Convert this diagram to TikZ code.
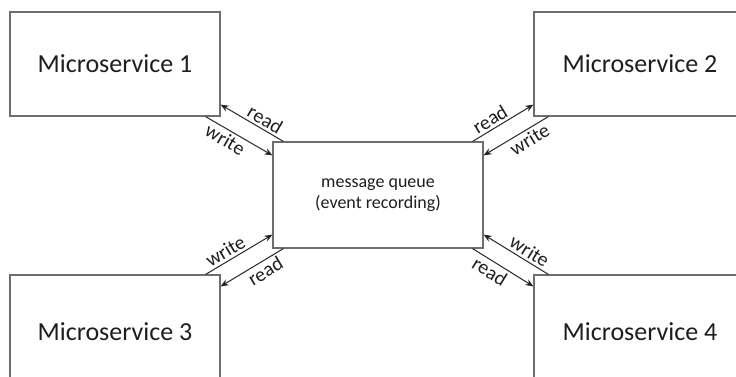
\documentclass[tikz,border=0pt]{standalone}
\usepackage{fontspec}
\setmainfont{Carlito}
\usepackage{tikz}
\usetikzlibrary{arrows.meta}
\definecolor{bx}{RGB}{110, 110, 110}
\definecolor{tx}{RGB}{30, 30, 30}

\begin{document}
\begin{tikzpicture}
			[x=1pt,y=-1pt,every node/.style={inner sep=0pt},
			msbox/.style={rectangle, draw=bx, line width=1.2pt, fill=white, text=tx, font=\fontsize{26}{30}\selectfont},
			rw/.style={line width=1pt, color=black!85, -{Stealth[length=8pt,width=6.5pt]}},
			lbl/.style={pos=0.37, sloped, inner sep=2.5pt, text=tx, font=\fontsize{20}{22}\selectfont}]
			\clip (0,0) rectangle (736,376);
			\node (ms1) [msbox, minimum width=210pt, minimum height=104pt] at (115, 64)  {Microservice 1};
			\node (ms2) [msbox, minimum width=212pt, minimum height=104pt] at (640, 64)  {Microservice 2};
			\node (ms3) [msbox, minimum width=210pt, minimum height=114pt] at (115, 332) {Microservice 3};
			\node (ms4) [msbox, minimum width=212pt, minimum height=114pt] at (640, 332) {Microservice 4};
			\node (mq) [msbox, minimum width=210pt, minimum height=106pt, align=center, font=\fontsize{18}{21}\selectfont] at (378, 195) {message queue\\(event recording)};
			% top left
			\draw [rw] ([xshift=11pt]mq.north west) to node [lbl, above] {read} ([yshift=12pt]ms1.south east);
			\draw [rw] ([xshift=-15pt]ms1.south east) to node [lbl, below] {write} ([yshift=-14pt]mq.north west);
			% top right
			\draw [rw] ([xshift=-11pt]mq.north east) to node [lbl, above] {read} ([yshift=12pt]ms2.south west);
			\draw [rw] ([xshift=15pt]ms2.south west) to node [lbl, below] {write} ([yshift=-14pt]mq.north east);
			% bottom left
			\draw [rw] ([xshift=-15pt]ms3.north east) to node [lbl, above] {write} ([yshift=14pt]mq.south west);
			\draw [rw] ([xshift=11pt]mq.south west) to node [lbl, below] {read} ([yshift=-12pt]ms3.north east);
			% bottom right
			\draw [rw] ([xshift=15pt]ms4.north west) to node [lbl, above] {write} ([yshift=14pt]mq.south east);
			\draw [rw] ([xshift=-11pt]mq.south east) to node [lbl, below] {read} ([yshift=-12pt]ms4.north west);
	\end{tikzpicture}
\end{document}
